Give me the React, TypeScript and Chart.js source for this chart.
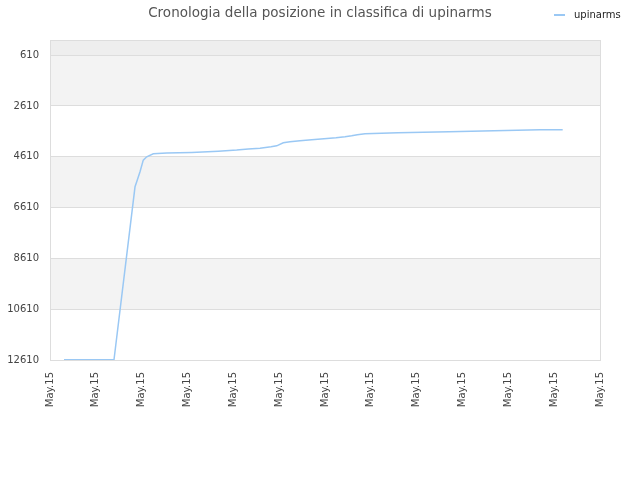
import React, { useEffect, useRef } from "react";
import { Chart, registerables } from "chart.js";

Chart.register(...registerables);

const TITLE = "Cronologia della posizione in classifica di upinarms";
const SERIES_LABEL = "upinarms";
const X_TICK_LABEL = "May.15";
const X_TICK_COUNT = 13;
const Y_TICKS = [610, 2610, 4610, 6610, 8610, 10610, 12610];
const Y_MIN = 20;
const Y_MAX = 12610;

const xValues = [
  0.305, 1.396, 1.855, 1.892, 1.964, 2.035, 2.11, 2.254, 2.546, 3.091, 3.672,
  4.073, 4.326, 4.582, 4.822, 4.946, 5.09, 5.236, 5.455, 5.709, 5.978, 6.24,
  6.436, 6.582, 6.705, 6.873, 7.593, 8.705, 9.687, 10.691, 11.186,
];
const rankValues = [
  12600, 12600, 5791, 5595, 5201, 4741, 4611, 4493, 4465, 4438, 4387, 4347,
  4308, 4269, 4218, 4178, 4060, 4021, 3981, 3942, 3903, 3863, 3824, 3785, 3745,
  3706, 3667, 3627, 3588, 3549, 3549,
];

const LINE_COLOR = "#9ac8f4";
const FONT = "'DejaVu Sans', sans-serif";

const bandsPlugin = {
  id: "bands",
  afterLayout(chart: any) {
    const t = chart.titleBlock;
    if (t) {
      t.left = 0;
      t.right = chart.width;
      t.width = chart.width;
    }
  },
  beforeDraw(chart: any) {
    const { ctx, chartArea } = chart;
    const y = chart.scales.y;
    const { left, right, top } = chartArea;
    ctx.save();
    const firstPx = y.getPixelForValue(Y_TICKS[0]);
    ctx.fillStyle = "#eeeeee";
    ctx.fillRect(left, top, right - left, firstPx - top);
    for (let i = 0; i < Y_TICKS.length - 1; i++) {
      const a = y.getPixelForValue(Y_TICKS[i]);
      const b = y.getPixelForValue(Y_TICKS[i + 1]);
      ctx.fillStyle = i % 2 === 0 ? "#f3f3f3" : "#ffffff";
      ctx.fillRect(left, a, right - left, b - a);
    }
    ctx.restore();
  },
  afterDraw(chart: any) {
    const { ctx, chartArea } = chart;
    const { left, right, top, bottom } = chartArea;
    ctx.save();
    ctx.strokeStyle = "#dddddd";
    ctx.lineWidth = 1;
    ctx.strokeRect(Math.round(left) + 0.5, Math.round(top) + 0.5, Math.round(right - left), Math.round(bottom - top));
    // legend
    ctx.strokeStyle = LINE_COLOR;
    ctx.lineWidth = 2;
    ctx.beginPath();
    ctx.moveTo(554, 15);
    ctx.lineTo(565, 15);
    ctx.stroke();
    ctx.fillStyle = "#222222";
    ctx.font = `10px ${FONT}`;
    ctx.textBaseline = "middle";
    ctx.textAlign = "left";
    ctx.fillText(SERIES_LABEL, 574, 15);
    ctx.restore();
  },
};

export default function App() {
  const ref = useRef<HTMLCanvasElement>(null);
  useEffect(() => {
    document.body.style.margin = "0";
    const canvas = ref.current!;
    const chart = new Chart(canvas, {
      type: "line",
      data: {
        datasets: [
          {
            label: SERIES_LABEL,
            data: xValues.map((x, i) => ({ x, y: rankValues[i] })),
            borderColor: LINE_COLOR,
            backgroundColor: LINE_COLOR,
            borderWidth: 1.5,
            pointRadius: 0,
            tension: 0,
            fill: false,
          },
        ],
      },
      options: {
        responsive: false,
        animation: false,
        layout: { padding: { left: 0, right: 40, top: 0, bottom: 0 } },
        plugins: {
          legend: { display: false },
          tooltip: { enabled: false },
          title: {
            display: true,
            text: TITLE,
            color: "#555555",
            font: { family: FONT, size: 13.5, weight: "normal" },
            padding: { top: 5, bottom: 19 },
          },
        },
        scales: {
          x: {
            type: "linear",
            min: 0,
            max: X_TICK_COUNT - 1,
            afterBuildTicks: (scale: any) => {
              scale.ticks = Array.from({ length: X_TICK_COUNT }, (_, i) => ({ value: i }));
            },
            afterFit: (scale: any) => {
              scale.height = 120;
            },
            grid: { display: false, drawTicks: false },
            border: { display: false },
            ticks: {
              autoSkip: false,
              minRotation: 90,
              maxRotation: 90,
              padding: 12,
              color: "#444444",
              font: { family: FONT, size: 10 },
              callback: () => X_TICK_LABEL,
            },
          },
          y: {
            type: "linear",
            reverse: true,
            min: Y_MIN,
            max: Y_MAX,
            afterBuildTicks: (scale: any) => {
              scale.ticks = Y_TICKS.map((v) => ({ value: v }));
            },
            afterFit: (scale: any) => {
              scale.width = 50;
            },
            grid: { color: "#dddddd", drawTicks: false },
            border: { display: false },
            ticks: {
              padding: 11,
              color: "#444444",
              font: { family: FONT, size: 10 },
              callback: (v: any) => String(v),
            },
          },
        },
      },
      plugins: [bandsPlugin],
    });
    return () => chart.destroy();
  }, []);
  return (
    <div style={{ position: "absolute", left: 0, top: 0, width: 640, height: 480 }}>
      <canvas ref={ref} width={640} height={480} style={{ width: 640, height: 480 }} />
    </div>
  );
}
